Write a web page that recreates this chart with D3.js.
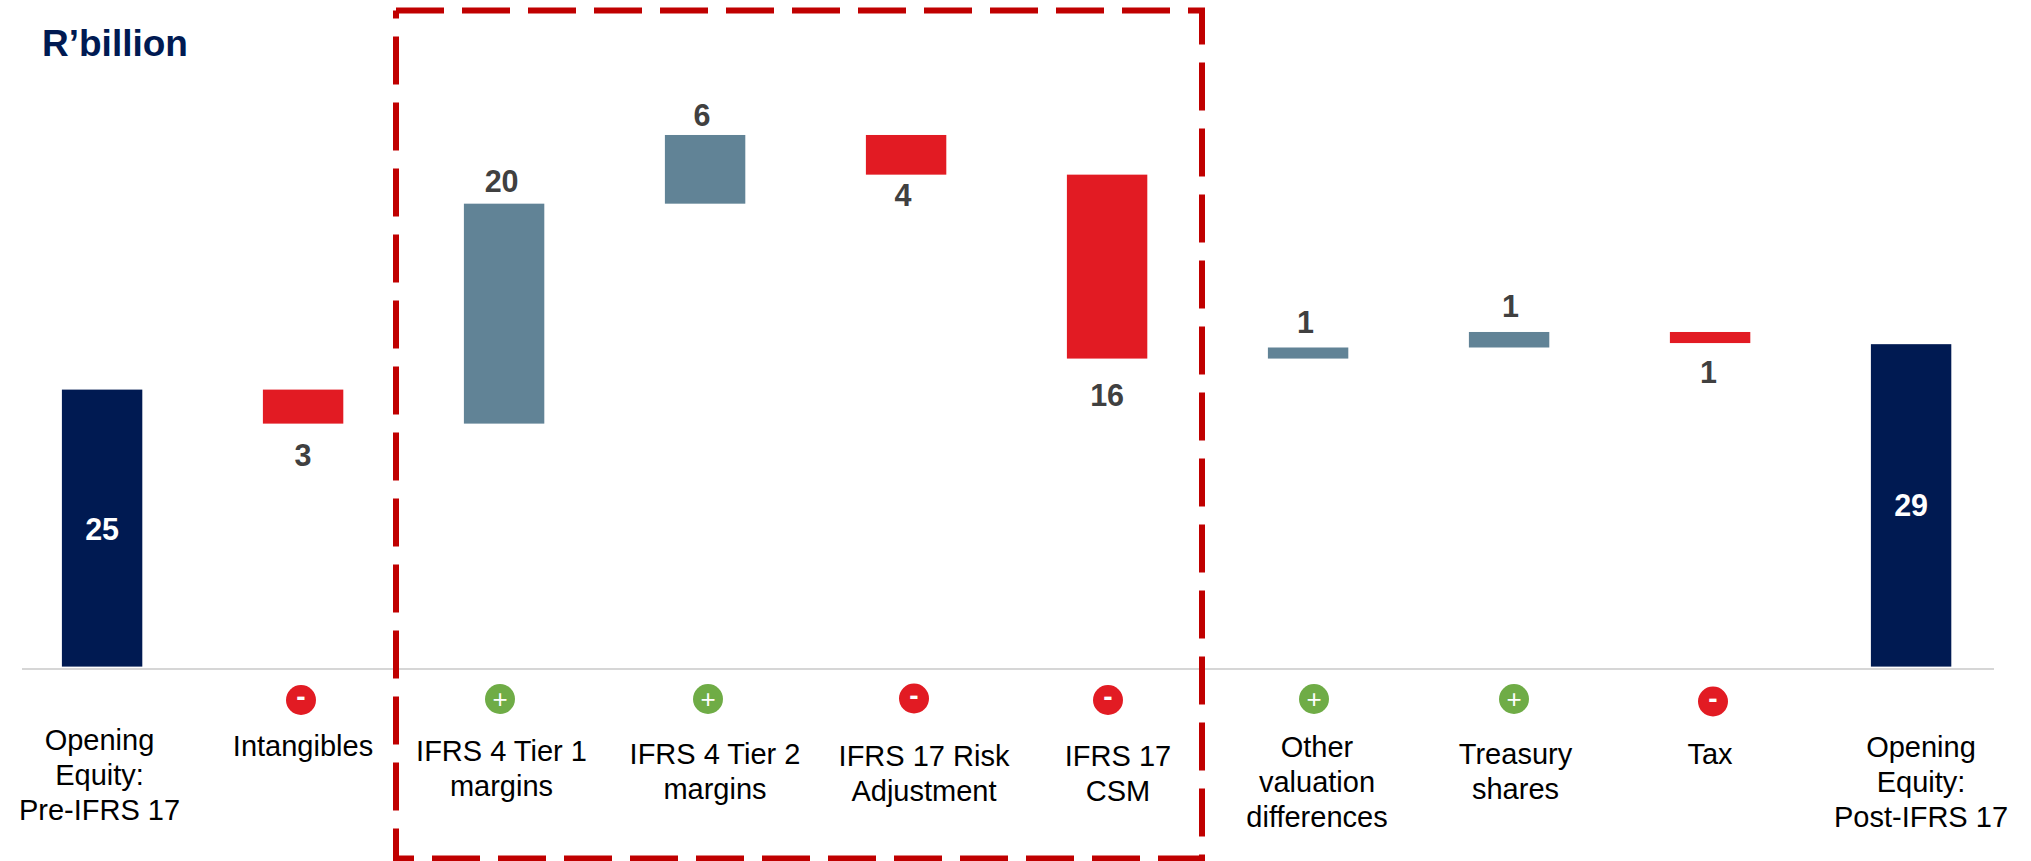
<!DOCTYPE html>
<html>
<head>
<meta charset="utf-8">
<script src="https://cdn.jsdelivr.net/npm/d3@7"></script>
<style>
html,body{margin:0;padding:0;background:#fff;overflow:hidden}
text{font-family:"Liberation Sans",Arial,sans-serif}
</style>
</head>
<body>
<div id="chart"></div>
<script>
// ---- data ----
const categories = ["Opening Equity: Pre-IFRS 17","Intangibles","IFRS 4 Tier 1 margins","IFRS 4 Tier 2 margins","IFRS 17 Risk Adjustment","IFRS 17 CSM","Other valuation differences","Treasury shares","Tax","Opening Equity: Post-IFRS 17"];
const categoryLines = [["Opening","Equity:","Pre-IFRS 17"],["Intangibles"],["IFRS 4 Tier 1","margins"],["IFRS 4 Tier 2","margins"],["IFRS 17 Risk","Adjustment"],["IFRS 17","CSM"],["Other","valuation","differences"],["Treasury","shares"],["Tax"],["Opening","Equity:","Post-IFRS 17"]];
const kinds = ["total","down","up","up","down","down","up","up","down","total"];
const values = [25,3.07,19.85,6.2,3.58,16.6,1.0,1.4,1.0,29.1];
const valueLabels = ["25","3","20","6","4","16","1","1","1","29"];
const signs = ["","-","+","+","-","-","+","+","-",""];
const title = "R\u2019billion";

// ---- layout (hand placement of the annotations in the reference) ----
const W = 2031, H = 861;
const labelGap = [0,42,11.7,9,31,47,14,15,39.5,0];
const labelNudgeX = [0,0,-2.5,-3,-3,0,-2.5,1.5,-1.5,0];
const totalLabelY = {0:539.5,9:515.5};
const catX = [99.5,303,501.5,715,924,1118,1317,1515.5,1710,1921];
const catY = [750,756,761,764,766,766,757,764,764,757];
const catLH = 35;
const badgeX = [0,301,500,708,914,1108,1314,1514,1713,0];
const badgeY = [0,700,699,699,698.5,700,699,699,701.5,0];
const colors = {total:"#001a52",up:"#618396",down:"#e21b23"};
const badgeColors = {"+":"#6fac46","-":"#e21b23"};

const svg = d3.select("#chart").append("svg").attr("width",W).attr("height",H).style("display","block");

const x = d3.scaleBand().domain(categories).range([1.6,2011.6]).paddingInner(0.6).paddingOuter(0.3);
const y = d3.scaleLinear().domain([0,50]).range([666.6,666.6-554]);

// waterfall spans
let run = 0;
const bars = categories.map((c,i)=>{
  let lo,hi;
  if(kinds[i]==="total"){lo=0;hi=values[i];run=values[i];}
  else if(kinds[i]==="up"){lo=run;hi=run+values[i];run=hi;}
  else {hi=run;lo=run-values[i];run=lo;}
  return {c,i,lo,hi,kind:kinds[i]};
});

// baseline
svg.append("line").attr("x1",22).attr("x2",1994).attr("y1",669).attr("y2",669)
  .attr("stroke","#c8c8c8").attr("stroke-width",1.5);

// bars
svg.append("g").selectAll("rect").data(bars).join("rect")
  .attr("x",d=>x(d.c)).attr("width",x.bandwidth())
  .attr("y",d=>y(d.hi)).attr("height",d=>y(d.lo)-y(d.hi))
  .attr("fill",d=>colors[d.kind]);

// dashed highlight box
const bx0=396,bx1=1202,by0=10.6,by1=858.6;
svg.append("path").attr("d",`M${bx0},${by0}H${bx1}V${by1}H${bx0}V${by0}`)
  .attr("fill","none").attr("stroke","#c00000").attr("stroke-width",6)
  .attr("stroke-dasharray","48 18");

// value labels
svg.append("g").selectAll("text").data(bars).join("text")
  .attr("x",d=>x(d.c)+x.bandwidth()/2+labelNudgeX[d.i])
  .attr("y",d=>d.kind==="total"?totalLabelY[d.i]:d.kind==="up"?y(d.hi)-labelGap[d.i]:y(d.lo)+labelGap[d.i])
  .attr("text-anchor","middle").attr("font-size",30.5).attr("font-weight","bold")
  .attr("fill",d=>d.kind==="total"?"#fff":"#404040")
  .text(d=>valueLabels[d.i]);

// category labels
const cat = svg.append("g").selectAll("text").data(bars).join("text")
  .attr("text-anchor","middle").attr("font-size",29).attr("fill","#000");
cat.selectAll("tspan").data(d=>categoryLines[d.i].map((t,k)=>({t,k,i:d.i}))).join("tspan")
  .attr("x",d=>catX[d.i]).attr("y",d=>catY[d.i]+d.k*catLH).text(d=>d.t);

// sign badges
const badges = svg.append("g").selectAll("g").data(bars.filter(d=>signs[d.i])).join("g")
  .attr("transform",d=>`translate(${badgeX[d.i]},${badgeY[d.i]})`);
badges.append("circle").attr("r",15).attr("fill",d=>badgeColors[signs[d.i]]);
badges.append("text").attr("text-anchor","middle")
  .attr("y",d=>signs[d.i]==="+"?9:6)
  .attr("font-size",d=>signs[d.i]==="+"?26:28)
  .attr("font-weight",d=>signs[d.i]==="+"?"normal":"bold")
  .attr("fill","#fff").text(d=>signs[d.i]);

// title
svg.append("text").attr("x",42).attr("y",56).attr("font-size",37).attr("font-weight","bold")
  .attr("fill","#001a52").text(title);
</script>
</body>
</html>
